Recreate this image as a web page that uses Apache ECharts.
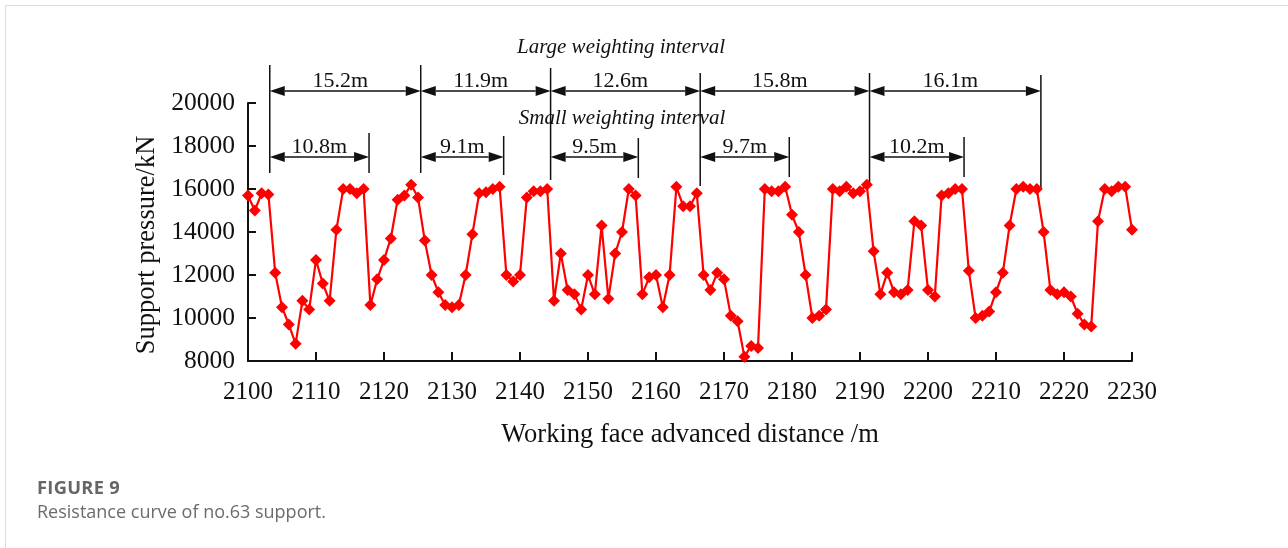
<!DOCTYPE html>
<html>
<head>
<meta charset="utf-8">
<script src="https://cdn.jsdelivr.net/npm/echarts@6/dist/echarts.min.js"></script>
<style>
  html, body { margin: 0; padding: 0; background: #fff; }
  #frame { position: absolute; left: 5px; top: 5px; width: 1400px; height: 700px; border-left: 1px solid #ddd; border-top: 1px solid #ddd; }
  #chart { position: absolute; left: 0; top: 0; width: 1288px; height: 548px; }
  .cap { position: absolute; left: 37px; font-family: "Open Sans", "Noto Sans", sans-serif; color: #666; }
  #fig { top: 474px; font-size: 18.3px; font-weight: bold; letter-spacing: 0.3px; }
  #sub { top: 499px; font-size: 18px; color: #6b6b6b; }
</style>
</head>
<body>
<div id="frame"></div>
<div id="chart"></div>
<div class="cap" id="fig">FIGURE 9</div>
<div class="cap" id="sub">Resistance curve of no.63 support.</div>
<script>
// advance distance (m), one reading per metre
const distance = [];
for (let d = 2100; d <= 2230; d++) distance.push(d);

// support pressure (kN)
const pressure = [
  15700, 15000, 15800, 15750, 12100, 10500, 9700, 8800, 10800, 10400,
  12700, 11600, 10800, 14100, 16000, 16000, 15800, 16000, 10600, 11800,
  12700, 13700, 15500, 15700, 16200, 15600, 13600, 12000, 11200, 10600,
  10500, 10600, 12000, 13900, 15800, 15850, 16000, 16100, 12000, 11700,
  12000, 15600, 15900, 15900, 16000, 10800, 13000, 11300, 11100, 10400,
  12000, 11100, 14300, 10900, 13000, 14000, 16000, 15700, 11100, 11900,
  12000, 10500, 12000, 16100, 15200, 15200, 15800, 12000, 11300, 12100,
  11800, 10100, 9850, 8200, 8700, 8600, 16000, 15900, 15900, 16100,
  14800, 14000, 12000, 10000, 10100, 10400, 16000, 15900, 16100, 15800,
  15900, 16200, 13100, 11100, 12100, 11200, 11100, 11300, 14500, 14300,
  11300, 11000, 15700, 15800, 16000, 16000, 12200, 10000, 10100, 10300,
  11200, 12100, 14300, 16000, 16100, 16000, 16000, 14000, 11300, 11100,
  11200, 11000, 10200, 9700, 9600, 14500, 16000, 15900, 16100, 16100,
  14100
];

// weighting interval annotations (x positions in metres)
const largeBounds = [2103.2, 2125.4, 2144.5, 2166.5, 2191.4, 2216.6];
const largeLabels = ['15.2m', '11.9m', '12.6m', '15.8m', '16.1m'];
const smallEnds = [2117.8, 2137.6, 2157.4, 2179.6, 2205.3];
const smallLabels = ['10.8m', '9.1m', '9.5m', '9.7m', '10.2m'];

const serif = '"Liberation Serif", "DejaVu Serif", serif';

const chart = echarts.init(document.getElementById('chart'));

const option = {
    animation: false,
    grid: { left: 248, right: 156, top: 103, bottom: 187 },
    xAxis: {
        type: 'value',
        min: 2100,
        max: 2230,
        interval: 10,
        name: 'Working face advanced distance /m',
        nameLocation: 'middle',
        nameGap: 61,
        nameTextStyle: { fontFamily: serif, fontSize: 26.5, color: '#111', verticalAlign: 'top' },
        axisLine: { lineStyle: { color: '#111', width: 2 } },
        axisTick: { inside: true, length: 9, lineStyle: { color: '#111', width: 2 } },
        axisLabel: { fontFamily: serif, fontSize: 25, color: '#111', margin: 19, formatter: v => String(v) },
        splitLine: { show: false }
    },
    yAxis: {
        type: 'value',
        min: 8000,
        max: 20000,
        interval: 2000,
        axisLine: { show: true, lineStyle: { color: '#111', width: 2 } },
        axisTick: { show: true, inside: true, length: 8, lineStyle: { color: '#111', width: 2 } },
        axisLabel: { fontFamily: serif, fontSize: 25.5, color: '#111', margin: 13, formatter: v => String(v) },
        splitLine: { show: false }
    },
    series: [
        {
            type: 'line',
            data: distance.map((d, i) => [d, pressure[i]]),
            symbol: 'diamond',
            symbolSize: 12,
            clip: false,
            lineStyle: { color: '#ff0000', width: 2.2 },
            itemStyle: { color: '#ff0000' }
        }
    ]
};

chart.setOption(option);

// ---- annotation graphics ----
const px = x => chart.convertToPixel({ gridIndex: 0 }, [x, 8000])[0];
const ink = '#111';
const g = [];

function vline(x, y1, y2) {
    g.push({ type: 'line', shape: { x1: x, y1: y1, x2: x, y2: y2 }, style: { stroke: ink, lineWidth: 1.5 } });
}
function arrow(x1, x2, y) {
    const L = 15, H = 5;
    g.push({ type: 'line', shape: { x1: x1 + L, y1: y, x2: x2 - L, y2: y }, style: { stroke: ink, lineWidth: 1.5 } });
    g.push({ type: 'polygon', shape: { points: [[x1, y], [x1 + L, y - H], [x1 + L, y + H]] }, style: { fill: ink } });
    g.push({ type: 'polygon', shape: { points: [[x2, y], [x2 - L, y - H], [x2 - L, y + H]] }, style: { fill: ink } });
}
function label(text, x, y, italic, size) {
    g.push({
        type: 'text', x: x, y: y,
        style: {
            text: text, fill: ink, fontFamily: serif, fontSize: size || 21,
            fontStyle: italic ? 'italic' : 'normal', align: 'center', verticalAlign: 'middle'
        }
    });
}

const largeTop = [65, 65, 68, 73, 73, 75];
const largeBottom = [173, 173, 180, 186, 183, 188];
const smallTop = [133, 136, 138, 137, 137];
const smallBottom = [173, 175, 178, 177, 177];

largeBounds.forEach((b, i) => vline(px(b), largeTop[i], largeBottom[i]));
smallEnds.forEach((b, i) => vline(px(b), smallTop[i], smallBottom[i]));

for (let i = 0; i < largeLabels.length; i++) {
    const a = px(largeBounds[i]), b = px(largeBounds[i + 1]);
    arrow(a, b, 91);
    label(largeLabels[i], (a + b) / 2 - 5, 81, false, 22);
    const s = px(smallEnds[i]);
    arrow(a, s, 157);
    label(smallLabels[i], (a + s) / 2, 147, false, 22);
}

label('Large weighting interval', 621, 47, true, 21);
label('Small weighting interval', 622, 118, true, 21);

// y axis title
g.push({
    type: 'text', x: 147, y: 245, rotation: Math.PI / 2,
    style: {
        text: 'Support pressure/kN', fill: ink, fontFamily: serif, fontSize: 26.5,
        align: 'center', verticalAlign: 'middle'
    }
});

chart.setOption({ graphic: g });
</script>
</body>
</html>
